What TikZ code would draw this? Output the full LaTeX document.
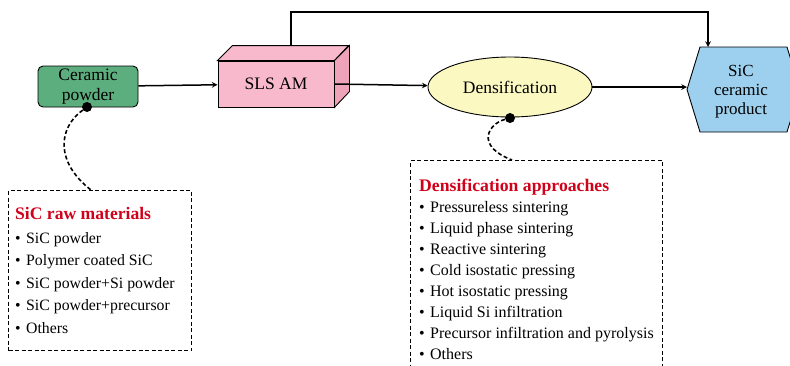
\documentclass[tikz,border=0pt]{standalone}
\usepackage{fontspec}
\setmainfont{Liberation Serif}
\usepackage{xcolor}
\usetikzlibrary{positioning,shapes}

\definecolor{powdergreen}{HTML}{5DAE7E}
\definecolor{slspink}{HTML}{F7B9CB}
\definecolor{slsside}{HTML}{EFA3B8}
\definecolor{densyellow}{HTML}{FBF8C2}
\definecolor{prodblue}{HTML}{9DD0EE}
\definecolor{titlered}{HTML}{D0021B}

\newcommand{\itm}[1]{\makebox[11pt][l]{\textbullet}#1}

\begin{document}
\begin{tikzpicture}[
            x=1pt, y=-1pt,
            >=stealth,
            flow/.style={->, line width=1.5pt},
            dashlink/.style={line width=1.6pt, dash pattern=on 4pt off 2.5pt},
            listbox/.style={draw, line width=1.4pt, dash pattern=on 4pt off 2.5pt, anchor=north west, inner sep=0pt},
            dot/.style={circle, fill=black, inner sep=0pt, minimum size=10pt},
            auto
        ]
            \useasboundingbox (0,0) rectangle (790,365);
            \begin{scope}[
                every node/.style={draw, line width=0.9pt, font=\fontsize{17.5}{21}\selectfont, align=center}
            ]
                % Stages
                \node[rounded corners=5pt, fill=powdergreen, minimum width=100pt, minimum height=41pt, inner sep=0pt] (powder) at (88,86.5)
                    {\raisebox{-3pt}{\begin{tabular}{@{}c@{}}Ceramic\\[-1pt]powder\end{tabular}}};
                \node[fill=slspink, minimum width=116pt, minimum height=46pt] (sls) at (276,84) {SLS AM};
                \node[ellipse, fill=densyellow, minimum width=164pt, minimum height=60pt] (dens) at (510,87) {Densification};
            \end{scope}
            % SLS box faces
            \draw[line width=0.9pt, fill=slspink] (sls.north west) -- ++(15,-15) -- ++(116,0) -- (sls.north east) -- cycle;
            \draw[line width=0.9pt, fill=slsside] (sls.north east) -- ++(15,-15) -- ++(0,46) -- (sls.south east) -- cycle;
            % Product
            \draw[line width=0.9pt, fill=prodblue] (687,89.5) -- (700,47) -- (787,47) -- (800,89.5) -- (787,132) -- (700,132) -- cycle;
            \node[align=center, font=\fontsize{17}{19}\selectfont] (prod) at (741,92) {SiC\\ceramic\\product};
            \coordinate (prodw) at (687,87);
            \coordinate (prodn) at (708,47);
            \coordinate (slstop) at (291,46);
            % Flow
            \draw[flow] (powder) -- (sls);
            \draw[flow] (sls.east) -- (dens);
            \draw[flow] (dens) -- (prodw);
            \draw[flow] (slstop) -- ++(0,-34) -| (prodn);
            % Lists
            \node[listbox, minimum width=183pt, minimum height=160pt] (raw) at (8,190) {};
            \node[listbox, minimum width=252pt, minimum height=215pt] (appr) at (410,160) {};
            \node[anchor=north west, align=left, inner sep=0pt, font=\fontsize{15.8}{22.5}\selectfont] (rawtxt) at (15,207)
                {{\fontsize{17.6}{22.5}\selectfont\bfseries\color{titlered}SiC raw materials}\\[1.5pt]
                 \itm{SiC powder}\\
                 \itm{Polymer coated SiC}\\
                 \itm{SiC powder+Si powder}\\
                 \itm{SiC powder+precursor}\\
                 \itm{Others}};
            \node[anchor=north west, align=left, inner sep=0pt, font=\fontsize{16}{21}\selectfont] (apprtxt) at (419,179)
                {{\fontsize{17.7}{21}\selectfont\bfseries\color{titlered}Densification approaches}\\
                 \itm{Pressureless sintering}\\
                 \itm{Liquid phase sintering}\\
                 \itm{Reactive sintering}\\
                 \itm{Cold isostatic pressing}\\
                 \itm{Hot isostatic pressing}\\
                 \itm{Liquid Si infiltration}\\
                 \itm{Precursor infiltration and pyrolysis}\\
                 \itm{Others}};
            % Links
            \node[dot] (d1) at (87,107) {};
            \node[dot] (d2) at (510,118) {};
            \coordinate (rawin) at (91,190);
            \coordinate (apprin) at (512,160);
            \draw[dashlink] (d1) .. controls (58,128) and (55,162) .. (rawin);
            \draw[dashlink] (d2) .. controls (488,124) and (475,146) .. (apprin);
        \end{tikzpicture}
\end{document}
